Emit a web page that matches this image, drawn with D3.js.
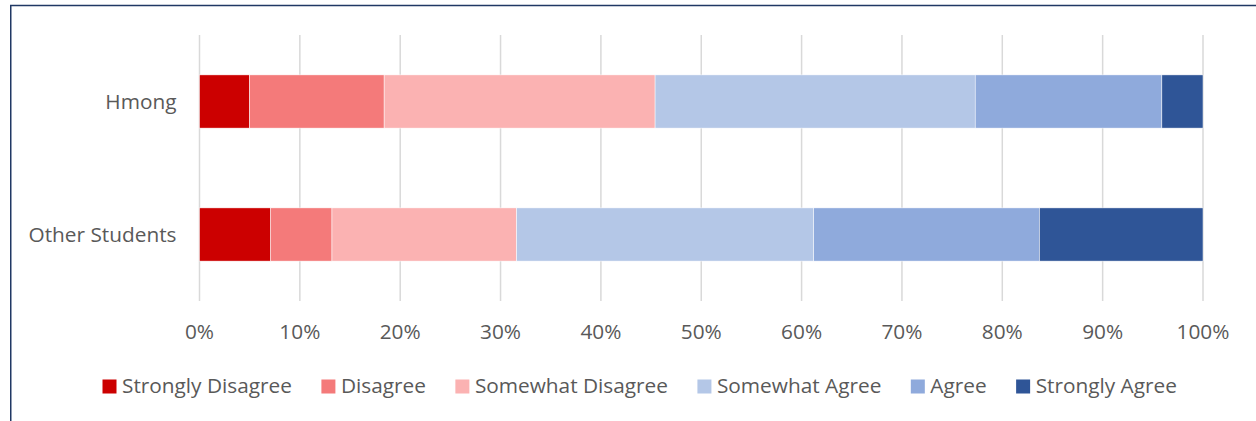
<!DOCTYPE html>
<html>
<head>
<meta charset="utf-8">
<script src="https://cdn.jsdelivr.net/npm/d3@7"></script>
<style>
  body { margin: 0; background: #fff; }
  svg { display: block; }
</style>
</head>
<body>
<div id="chart"></div>
<script>
// data (percent of respondents)
const groups = ["Hmong", "Other Students"];
const responses = ["Strongly Disagree", "Disagree", "Somewhat Disagree", "Somewhat Agree", "Agree", "Strongly Agree"];
const hmongValues = [5.0, 13.4, 27.0, 31.9, 18.6, 4.1];
const otherValues = [7.1, 6.1, 18.4, 29.6, 22.5, 16.3];
const tickValues = [0, 10, 20, 30, 40, 50, 60, 70, 80, 90, 100];
const colors = ["#CC0000", "#F47A7A", "#FBB2B2", "#B4C7E7", "#8FAADC", "#2F5597"];

const width = 1256, height = 421;
const font = "'Open Sans', sans-serif";
const fontSize = "20.8px";
const textColor = "#595959";

const rows = [hmongValues, otherValues].map((vals, i) => {
    const row = {group: groups[i]};
    responses.forEach((r, j) => row[r] = vals[j] / 100);
    return row;
});
const series = d3.stack().keys(responses)(rows);

const svg = d3.select("#chart").append("svg")
    .attr("width", width)
    .attr("height", height)
    .style("font-family", font)
    .style("font-size", fontSize);

const x = d3.scaleLinear().domain([0, 1]).range([199.5, 1203]);
const y = d3.scaleBand().domain(groups).range([35, 301])
    .paddingInner(0.6).paddingOuter(0.3);
const color = d3.scaleOrdinal(responses, colors);

// outer frame (top and left edge are all that show)
svg.append("path")
    .attr("d", `M10.75,${height} V5.5 H${width}`)
    .attr("fill", "none")
    .attr("stroke", "#203864")
    .attr("stroke-width", 1.5);

// gridlines
svg.append("g")
    .selectAll("line")
    .data(tickValues)
    .join("line")
    .attr("x1", d => x(d / 100))
    .attr("x2", d => x(d / 100))
    .attr("y1", y.range()[0])
    .attr("y2", y.range()[1])
    .attr("stroke", "#D9D9D9")
    .attr("stroke-width", 1.5);

// bars
svg.append("g")
    .selectAll("g")
    .data(series)
    .join("g")
    .attr("fill", d => color(d.key))
    .selectAll("rect")
    .data(d => d)
    .join("rect")
    .attr("x", d => x(d[0]))
    .attr("y", d => y(d.data.group))
    .attr("width", d => x(d[1]) - x(d[0]))
    .attr("height", y.bandwidth())
    .attr("stroke", "#fff")
    .attr("stroke-width", 0.5);

// x tick labels
svg.append("g")
    .selectAll("text")
    .data(tickValues)
    .join("text")
    .attr("x", d => x(d / 100))
    .attr("y", 339)
    .attr("text-anchor", "middle")
    .attr("fill", textColor)
    .text(d => d + "%");

// category labels
svg.append("g")
    .selectAll("text")
    .data(groups)
    .join("text")
    .attr("x", 176.5)
    .attr("y", d => y(d) + y.bandwidth() / 2 + 7.5)
    .attr("text-anchor", "end")
    .attr("fill", textColor)
    .text(d => d);

// legend
const legend = svg.append("g");
let lx = 102.5;
responses.forEach(r => {
    legend.append("rect")
        .attr("x", lx)
        .attr("y", 379.5)
        .attr("width", 14)
        .attr("height", 14)
        .attr("fill", color(r));
    const t = legend.append("text")
        .attr("x", lx + 19.5)
        .attr("y", 393)
        .attr("fill", textColor)
        .text(r);
    lx += 19.5 + t.node().getComputedTextLength() + 29.5;
});
</script>
</body>
</html>
